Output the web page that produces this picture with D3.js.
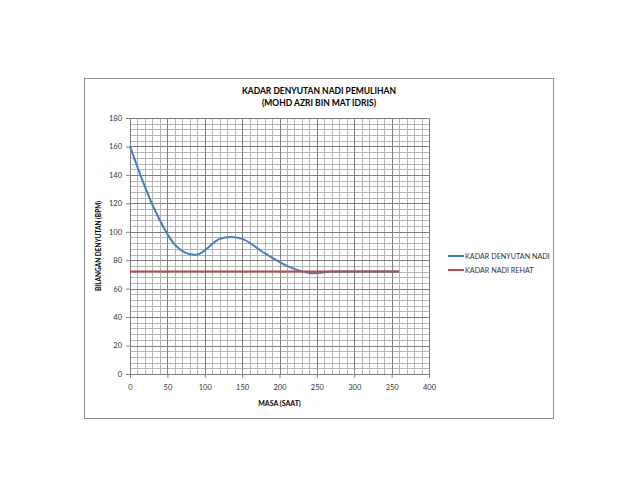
<!DOCTYPE html>
<html>
<head>
<meta charset="utf-8">
<script src="https://cdn.jsdelivr.net/npm/d3@7"></script>
<style>
  body { margin: 0; background: #fff; }
  text { font-family: Lato, "Open Sans", sans-serif; }
</style>
</head>
<body>
<div class="chart"></div>
<script>
// data
var masa = [0, 30, 60, 90, 120, 150, 180, 210, 240, 270, 300, 330, 360];
var denyutan = [160, 119, 91, 84, 95, 95, 85, 76, 71, 72, 72, 72, 72];
var rehat = [72, 72, 72, 72, 72, 72, 72, 72, 72, 72, 72, 72, 72];
var xTicks = [0, 50, 100, 150, 200, 250, 300, 350, 400];
var yTicks = [0, 20, 40, 60, 80, 100, 120, 140, 160, 180];
var seriesNames = ["KADAR DENYUTAN NADI", "KADAR NADI REHAT"];
var titleLines = ["KADAR DENYUTAN NADI PEMULIHAN", "(MOHD AZRI BIN MAT IDRIS)"];

var W = 638, H = 493;
var plot = {left: 130, top: 118, right: 429, bottom: 374};

var svg = d3.select(".chart").append("svg")
    .attr("width", W)
    .attr("height", H);

// chart frame
svg.append("rect")
    .attr("x", 84.5).attr("y", 78.5)
    .attr("width", 469).attr("height", 340)
    .attr("fill", "none")
    .attr("stroke", "#8c8c8c");

var x = d3.scaleLinear().domain([0, 400]).range([plot.left, plot.right]);
var y = d3.scaleLinear().domain([0, 180]).range([plot.bottom, plot.top]);

// minor grid
var g = svg.append("g").attr("transform", "translate(0.5,0.5)");
g.selectAll(".vminor")
    .data(d3.range(0, 401, 10))
    .enter().append("line")
    .attr("x1", function(d) { return Math.round(x(d)); })
    .attr("x2", function(d) { return Math.round(x(d)); })
    .attr("y1", plot.top).attr("y2", plot.bottom)
    .attr("stroke", "#b5b5b5");
g.selectAll(".hminor")
    .data(d3.range(0, 181, 4))
    .enter().append("line")
    .attr("y1", function(d) { return Math.round(y(d)); })
    .attr("y2", function(d) { return Math.round(y(d)); })
    .attr("x1", plot.left).attr("x2", plot.right)
    .attr("stroke", "#b5b5b5");

// major grid
g.selectAll(".vmajor")
    .data(xTicks)
    .enter().append("line")
    .attr("x1", function(d) { return Math.round(x(d)); })
    .attr("x2", function(d) { return Math.round(x(d)); })
    .attr("y1", plot.top).attr("y2", plot.bottom)
    .attr("stroke", "#808080");
g.selectAll(".hmajor")
    .data(yTicks)
    .enter().append("line")
    .attr("y1", function(d) { return Math.round(y(d)); })
    .attr("y2", function(d) { return Math.round(y(d)); })
    .attr("x1", plot.left).attr("x2", plot.right)
    .attr("stroke", "#808080");

// axes
var xAxis = d3.axisBottom(x).tickValues(xTicks).tickSize(4).tickPadding(7);
var yAxis = d3.axisLeft(y).tickValues(yTicks).tickSize(4).tickPadding(4);

var xa = svg.append("g")
    .attr("transform", "translate(0," + plot.bottom + ")")
    .call(xAxis);
var ya = svg.append("g")
    .attr("transform", "translate(" + plot.left + ",0)")
    .call(yAxis);
[xa, ya].forEach(function(a) {
  a.select(".domain").attr("stroke", "#808080");
  a.selectAll(".tick line").attr("stroke", "#808080");
  a.selectAll(".tick text")
      .attr("fill", "#333")
      .style("font-family", "Lato, sans-serif")
      .style("font-size", "7.5px");
});

// series
var pts = masa.map(function(d, i) { return [d, denyutan[i]]; });
var rest = masa.map(function(d, i) { return [d, rehat[i]]; });

var line = d3.line()
    .x(function(d) { return x(d[0]); })
    .y(function(d) { return y(d[1]); })
    .curve(d3.curveCardinal.tension(0));

svg.append("path")
    .datum(pts)
    .attr("d", line)
    .attr("fill", "none")
    .attr("stroke", "#4a7ebb")
    .attr("stroke-width", 2);

svg.append("path")
    .datum(rest)
    .attr("d", d3.line().x(function(d) { return x(d[0]); }).y(function(d) { return y(d[1]); }))
    .attr("fill", "none")
    .attr("stroke", "#be4b48")
    .attr("stroke-width", 2);

// titles
svg.append("text")
    .attr("x", 319).attr("y", 94)
    .attr("text-anchor", "middle")
    .style("font-size", "8.5px")
    .style("font-weight", "bold")
    .selectAll("tspan")
    .data(titleLines)
    .enter().append("tspan")
    .attr("x", 319)
    .attr("dy", function(d, i) { return i ? 12 : 0; })
    .text(function(d) { return d; });

svg.append("text")
    .attr("x", (plot.left + plot.right) / 2).attr("y", 406)
    .attr("text-anchor", "middle")
    .style("font-size", "7px")
    .style("font-weight", "bold")
    .text("MASA (SAAT)");

svg.append("text")
    .attr("transform", "translate(101,246) rotate(-90)")
    .attr("text-anchor", "middle")
    .style("font-size", "6.5px")
    .style("font-weight", "bold")
    .text("BILANGAN DENYUTAN (BPM)");

// legend
var legend = svg.selectAll(".legend")
    .data(seriesNames)
    .enter().append("g")
    .attr("transform", function(d, i) { return "translate(448," + (256 + i * 14) + ")"; });
legend.append("line")
    .attr("x1", 0).attr("x2", 16)
    .attr("stroke", function(d, i) { return i ? "#be4b48" : "#4a7ebb"; })
    .attr("stroke-width", 2);
legend.append("text")
    .attr("x", 17).attr("dy", "0.35em")
    .attr("fill", "#333")
    .style("font-size", "7.2px")
    .text(function(d) { return d; });
</script>
</body>
</html>
